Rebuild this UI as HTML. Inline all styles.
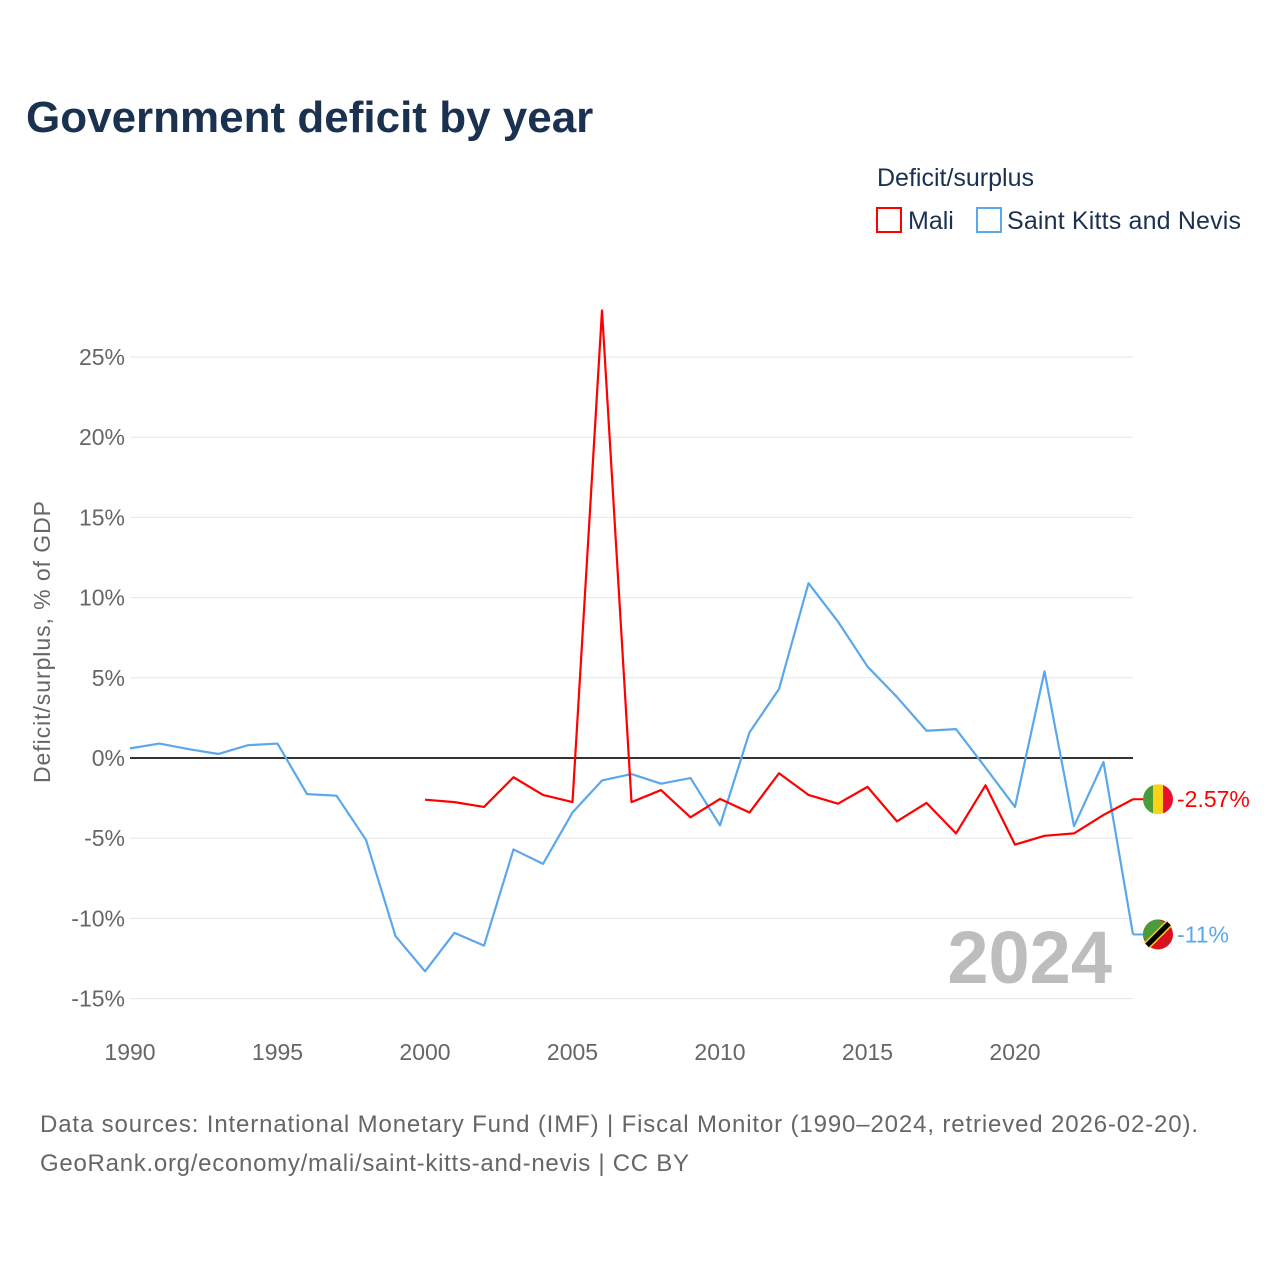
<!DOCTYPE html>
<html><head><meta charset="utf-8"><style>
body{margin:0;background:#fff;font-family:"Liberation Sans",sans-serif;}
#wrap{position:relative;width:1280px;height:1280px;overflow:hidden;}
</style></head><body>
<div id="wrap">
<svg id="chart" width="1280" height="1280" style="position:absolute;left:0;top:0">
<text x="26" y="132" font-size="44" font-weight="bold" fill="#1a3150">Government deficit by year</text>
<text x="877" y="186" font-size="25" fill="#1a3150">Deficit/surplus</text>
<g><rect x="877" y="208" width="24" height="24" fill="none" stroke="#ff0000" stroke-width="2"/><text x="908" y="229" font-size="25" fill="#1a3150">Mali</text></g>
<g><rect x="977" y="208" width="24" height="24" fill="none" stroke="#5ba7ec" stroke-width="2"/><text x="1007" y="229" font-size="25" fill="#1a3150" textLength="234">Saint Kitts and Nevis</text></g>
<text transform="translate(50,642) rotate(-90)" text-anchor="middle" font-size="23" fill="#666" textLength="282">Deficit/surplus, % of GDP</text>
<g id="grid"></g><g id="series"></g>
<text x="1112" y="983" text-anchor="end" font-size="74" font-weight="bold" fill="#bdbdbd">2024</text>
<text x="40" y="1132" font-size="24" fill="#666" textLength="1158">Data sources: International Monetary Fund (IMF) | Fiscal Monitor (1990–2024, retrieved 2026-02-20).</text>
<text x="40" y="1171" font-size="24" fill="#666" textLength="649">GeoRank.org/economy/mali/saint-kitts-and-nevis | CC BY</text>
</svg>
</div>
<script>
const years=[1990,1991,1992,1993,1994,1995,1996,1997,1998,1999,2000,2001,2002,2003,2004,2005,2006,2007,2008,2009,2010,2011,2012,2013,2014,2015,2016,2017,2018,2019,2020,2021,2022,2023,2024];
const kittsValues=[0.6,0.9,0.55,0.25,0.8,0.9,-2.25,-2.35,-5.1,-11.1,-13.3,-10.9,-11.7,-5.7,-6.6,-3.4,-1.4,-1.0,-1.6,-1.25,-4.2,1.6,4.3,10.9,8.5,5.7,3.8,1.7,1.8,-0.6,-3.05,5.4,-4.25,-0.25,-11.0];
const maliYears=[2000,2001,2002,2003,2004,2005,2006,2007,2008,2009,2010,2011,2012,2013,2014,2015,2016,2017,2018,2019,2020,2021,2022,2023,2024];
const maliValues=[-2.6,-2.75,-3.05,-1.2,-2.3,-2.75,27.9,-2.75,-2.0,-3.7,-2.55,-3.4,-0.95,-2.3,-2.85,-1.8,-3.95,-2.8,-4.7,-1.7,-5.4,-4.85,-4.7,-3.55,-2.57];
const yTicks=[-15,-10,-5,0,5,10,15,20,25];
const xTicks=[1990,1995,2000,2005,2010,2015,2020];
const NS="http://www.w3.org/2000/svg";
const X=y=>130+(y-1990)*(1133-130)/34;
const Y=v=>758-v*16.04;
const grid=document.getElementById('grid'),ser=document.getElementById('series');
function mk(tag,attrs,parent){const e=document.createElementNS(NS,tag);for(const k in attrs)e.setAttribute(k,attrs[k]);parent.appendChild(e);return e;}
yTicks.forEach(t=>{
  const l=mk('line',{x1:130,x2:1133,y1:Y(t),y2:Y(t),stroke:t===0?'#333':'#e6e6e6','stroke-width':t===0?2:1},grid);
  
  
  const tx=mk('text',{x:125,y:Y(t)+8,'text-anchor':'end','font-size':23,fill:'#666'},grid);
  tx.textContent=t+'%';
  
  
});
xTicks.forEach(t=>{
  const tx=mk('text',{x:X(t),y:1060,'text-anchor':'middle','font-size':23,fill:'#666'},grid);
  tx.textContent=t;
  
  
});
function line(xs,vs,color,name){
  const p=mk('polyline',{points:xs.map((y,i)=>X(y)+','+Y(vs[i])).join(' '),fill:'none',stroke:color,'stroke-width':2.2,'stroke-linejoin':'round'},ser);
  
  
}
line(years,kittsValues,'#5ba7ec','line-saint-kitts');
line(maliYears,maliValues,'#ff0000','line-mali');
const my=Y(maliValues[maliValues.length-1]),ky=Y(kittsValues[kittsValues.length-1]);
const mg=mk('g',{},ser);


mk('line',{x1:1133,x2:1145,y1:my,y2:my,stroke:'#ff0000','stroke-width':2},mg);
mk('clipPath',{id:'cm'},mg).appendChild(document.createElementNS(NS,'circle')).setAttribute('r','15');
document.querySelector('#cm circle').setAttribute('cx',1158);document.querySelector('#cm circle').setAttribute('cy',my);
mk('rect',{x:1143,y:my-15,width:10,height:30,fill:'#4a9c3a','clip-path':'url(#cm)'},mg);
mk('rect',{x:1153,y:my-15,width:10,height:30,fill:'#fcd116','clip-path':'url(#cm)'},mg);
mk('rect',{x:1163,y:my-15,width:10,height:30,fill:'#e8112d','clip-path':'url(#cm)'},mg);
const mt=mk('text',{x:1177,y:my+8,'font-size':23,fill:'#ff0000'},mg);mt.textContent='-2.57%';
const kg=mk('g',{},ser);


mk('line',{x1:1133,x2:1145,y1:ky,y2:ky,stroke:'#5ba7ec','stroke-width':2},kg);
mk('circle',{cx:1158,cy:ky,r:15,fill:'#d8121f'},kg);
mk('path',{d:`M1143 ${ky} A15 15 0 0 1 1158 ${ky-15} L1170 ${ky-10} L1146 ${ky+10} Z`,fill:'#4a9c3a'},kg);
mk('line',{x1:1147,y1:ky+11,x2:1169,y2:ky-11,stroke:'#fcd116','stroke-width':8},kg);
mk('line',{x1:1147,y1:ky+11,x2:1169,y2:ky-11,stroke:'#000','stroke-width':5},kg);
const kt=mk('text',{x:1177,y:ky+8,'font-size':23,fill:'#5ba7ec'},kg);kt.textContent='-11%';
</script>
</body></html>
